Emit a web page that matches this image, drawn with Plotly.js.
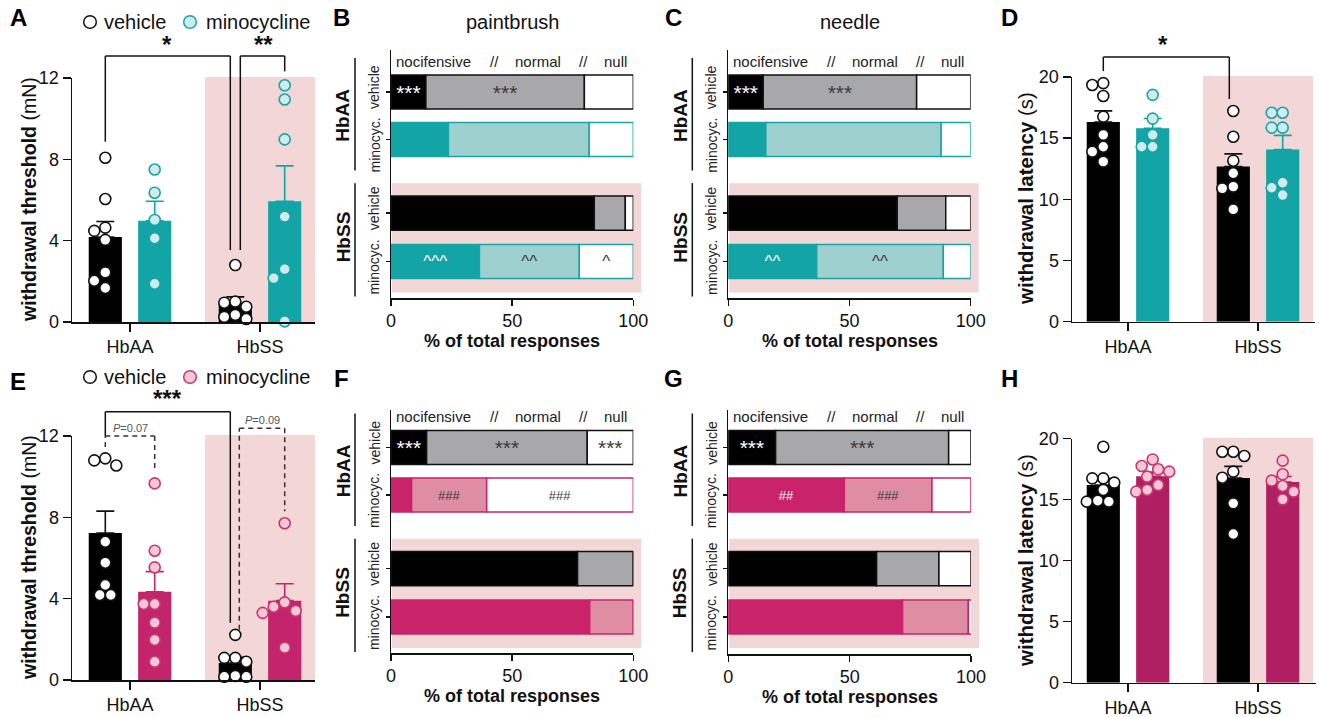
<!DOCTYPE html>
<html><head><meta charset="utf-8">
<script src="https://cdn.plot.ly/plotly-3.0.1.min.js"></script>
<style>html,body{margin:0;padding:0;background:#fff}#chart{width:1319px;height:717px}</style>
</head><body><div id="chart"></div>
<script>
// ================= DATA =================
const groups = ['HbAA', 'HbSS'];

// Panel A – withdrawal threshold (mN), teal minocycline cohort
const A_vehicle_HbAA = [8.08, 6.05, 4.64, 4.48, 4.04, 2.44, 2.03, 1.67];
const A_vehicle_HbSS = [2.8, 1.0, 0.95, 0.75, 0.35, 0.25, 0.15];
const A_minocycline_HbAA = [7.5, 6.36, 5.02, 4.12, 1.88];
const A_minocycline_HbSS = [11.64, 10.94, 8.98, 5.18, 2.6, 2.16, 0.03];

// Panel D – withdrawal latency (s), teal cohort
const D_vehicle_HbAA = [19.5, 19.35, 18.45, 16.76, 15.27, 14.3, 13.9, 13.08];
const D_vehicle_HbSS = [17.22, 15.12, 13.16, 12.13, 11.04, 10.9, 9.18];
const D_minocycline_HbAA = [18.54, 16.6, 15.27, 14.3, 14.3];
const D_minocycline_HbSS = [17.08, 17.08, 15.86, 15.86, 11.36, 10.95, 10.35];

// Panel E – withdrawal threshold (mN), magenta cohort
const E_vehicle_HbAA = [10.9, 10.8, 10.55, 6.8, 5.77, 4.67, 4.18, 4.18];
const E_vehicle_HbSS = [2.22, 1.09, 1.09, 0.9, 0.2, 0.16, 0.16];
const E_minocycline_HbAA = [9.67, 6.36, 5.54, 3.74, 3.74, 2.82, 1.97, 0.9];
const E_minocycline_HbSS = [7.71, 3.82, 3.6, 3.4, 3.3, 1.59];

// Panel H – withdrawal latency (s), magenta cohort
const H_vehicle_HbAA = [19.34, 16.75, 16.75, 16.4, 15.8, 14.92, 14.84, 14.84];
const H_vehicle_HbSS = [18.93, 18.93, 18.58, 17.3, 16.8, 14.7, 12.19];
const H_minocycline_HbAA = [18.3, 17.76, 17.49, 17.3, 16.89, 16.2, 15.8, 15.66];
const H_minocycline_HbSS = [18.2, 17.08, 16.56, 16.12, 15.66, 15.03];

// Stacked response panels (% of total responses); rows: HbAA vehicle, HbAA minocyc., HbSS vehicle, HbSS minocyc.
const rowGroups = ['HbAA', 'HbAA', 'HbSS', 'HbSS'];
const rowTreatments = ['vehicle', 'minocyc.', 'vehicle', 'minocyc.'];
const responseTypes = ['nocifensive', 'normal', 'null'];

const B_nocifensive = [14.4, 23.7, 83.9, 36.5];
const B_normal      = [65.4, 58.1, 12.8, 41.2];
const B_null        = [20.2, 18.2, 3.3, 22.3];
const B_sig_nocifensive = ['***', '', '', '^^^'];
const B_sig_normal      = ['***', '', '', '^^'];
const B_sig_null        = ['***', '', '', '^'];

const C_nocifensive = [14.4, 15.5, 69.7, 36.5];
const C_normal      = [63.3, 72.3, 20.0, 52.2];
const C_null        = [22.3, 12.2, 10.3, 11.3];
const C_sig_nocifensive = ['***', '', '', '^^'];
const C_sig_normal      = ['***', '', '', '^^'];
const C_sig_null        = ['', '', '', ''];

const F_nocifensive = [14.7, 8.5, 77.0, 82.0];
const F_normal      = [66.3, 31.0, 23.0, 18.0];
const F_null        = [19.0, 60.5, 0, 0];
const F_sig_nocifensive = ['***', '', '', ''];
const F_sig_normal      = ['***', '###', '', ''];
const F_sig_null        = ['***', '###', '', ''];

const G_nocifensive = [19.5, 47.8, 61.1, 71.8];
const G_normal      = [71.3, 36.1, 25.7, 27.1];
const G_null        = [9.2, 16.1, 13.2, 2.5];
const G_sig_nocifensive = ['***', '##', '', ''];
const G_sig_normal      = ['***', '###', '', ''];
const G_sig_null        = ['', '', '', ''];

// ================= STYLE / LAYOUT HELPERS =================
const W = 1319, H = 717;
const FONT = 'Arial, "Liberation Sans", sans-serif';
const INK = '#111';
const PINK_BG = '#f3d6d6';
const TEAL = {bar: '#13a5a6', fill: '#cfeced', line: '#1aa4a6', normal: '#9fd0d0'};
const MAG_E = {bar: '#c4246b', fill: '#f5c6d6', line: '#c5376f'};
const MAG_H = {bar: '#b11f63', fill: '#f5c6d6', line: '#c5376f'};
const MAG_S = {bar: '#c9236a', normal: '#de8da2', line: '#c9236a'};
const VEH = {bar: '#000000', fill: '#ffffff', line: '#111111', normal: '#a8a8ab'};

const xp = p => p / W, yp = p => 1 - p / H;
const layout = {
  width: W, height: H, margin: {l: 0, r: 0, t: 0, b: 0},
  paper_bgcolor: '#ffffff', plot_bgcolor: 'rgba(0,0,0,0)',
  showlegend: false, barmode: 'overlay', hovermode: false,
  font: {family: FONT, color: INK, size: 18},
  shapes: [], annotations: []
};
const traces = [];

function ann(text, x, y, opts = {}) {
  const font = Object.assign({family: FONT, size: 18, color: INK}, opts.font || {});
  const o = Object.assign({text, x: xp(x), y: yp(y), xref: 'paper', yref: 'paper', showarrow: false,
    xanchor: 'center', yanchor: 'middle'}, opts);
  o.font = font;
  layout.annotations.push(o);
}
function seg(x0, y0, x1, y1, opts = {}) {
  layout.shapes.push({type: 'line', xref: 'paper', yref: 'paper', x0: xp(x0), y0: yp(y0), x1: xp(x1), y1: yp(y1),
    line: Object.assign({color: INK, width: 1.5}, opts)});
}
function rect(x0, y0, x1, y1, color) {
  layout.shapes.push({type: 'rect', xref: 'paper', yref: 'paper', x0: xp(x0), x1: xp(x1), y0: yp(y1), y1: yp(y0),
    fillcolor: color, line: {width: 0}, layer: 'below'});
}
function circ(cx, cy, r, fill, lineColor) {
  layout.shapes.push({type: 'circle', xref: 'paper', yref: 'paper', x0: xp(cx - r), x1: xp(cx + r), y0: yp(cy + r), y1: yp(cy - r),
    fillcolor: fill, line: {color: lineColor, width: 1.5}});
}
const mean = a => a.reduce((s, v) => s + v, 0) / a.length;
const sem = a => { const m = mean(a); return Math.sqrt(a.reduce((s, v) => s + (v - m) ** 2, 0) / (a.length - 1) / a.length); };

// beeswarm offsets (px) so markers do not overlap
function swarm(vals, pxPerUnit, d) {
  const order = vals.map((v, i) => i).sort((a, b) => vals[b] - vals[a]);
  const placed = [], out = new Array(vals.length).fill(0);
  for (const i of order) {
    const y = vals[i] * pxPerUnit;
    for (let k = 0; k < 60; k++) {
      const step = Math.ceil(k / 2) * d / 2 * (k % 2 ? -1 : 1);
      if (placed.every(p => Math.hypot(p.x - step, p.y - y) >= d)) { out[i] = step; placed.push({x: step, y}); break; }
    }
  }
  return out;
}

const OFF = 0.19, BW = 0.255, XS = 130, DOT = 11;
function axisBase() {
  return {showline: true, linecolor: INK, linewidth: 1.5, ticks: 'outside', tickcolor: INK, tickwidth: 1.5,
    showgrid: false, zeroline: false, fixedrange: true, tickfont: {family: FONT, size: 18, color: INK}};
}

function barPanel(n, g, yr, dtick, veh, mino, th) {
  const id = n === 1 ? '' : String(n);
  const ys = (g.y1 - g.y0) / (yr[1] - yr[0]);
  const X = v => g.g0 + v * XS, Y = v => g.y1 - (v - yr[0]) * ys;
  layout['xaxis' + id] = Object.assign(axisBase(), {domain: [xp(g.x0), xp(g.x1)],
    range: [(g.x0 - g.g0) / XS, (g.x1 - g.g0) / XS], anchor: 'y' + id,
    tickmode: 'array', tickvals: [0, 1], ticktext: groups, ticklen: 8});
  layout['yaxis' + id] = Object.assign(axisBase(), {domain: [yp(g.y1), yp(g.y0)], range: yr, anchor: 'x' + id,
    tick0: 0, dtick: dtick, ticklen: 8});
  rect(X(1) - 55, Y(yr[1]) - 1, X(1) + 55, Y(yr[0]), PINK_BG);
  const sets = [[veh, -OFF, VEH, VEH.line], [mino, OFF, th, th.bar]];
  sets.forEach(([data, off, col, ecol]) => {
    traces.push({type: 'bar', xaxis: 'x' + id, yaxis: 'y' + id,
      x: groups.map((_, i) => i + off), y: data.map(mean), width: BW,
      marker: {color: col.bar, line: {width: 0}},
      error_y: {type: 'data', symmetric: false, array: data.map(sem), arrayminus: data.map(() => 0),
        color: ecol, thickness: 1.6, width: 9}, hoverinfo: 'skip'});
  });
  sets.forEach(([data, off, col]) => {
    data.forEach((vals, i) => {
      const sw = swarm(vals, ys, DOT);
      traces.push({type: 'scatter', mode: 'markers', xaxis: 'x' + id, yaxis: 'y' + id, cliponaxis: false,
        x: vals.map((v, j) => i + off + sw[j] / XS), y: vals,
        marker: {size: DOT, color: col.fill, line: {color: col.line, width: 1.6}}, hoverinfo: 'skip'});
    });
  });
  return {X, Y};
}

const ROWPOS = [0, 1, 2.55, 3.57], RPX = 47.5, BH = 0.716;
const sigSize = t => t.includes('*') ? 21 : (t.includes('^') ? 17 : 13);
function stackPanel(n, s, noci, normal, nul, sigs, th) {
  const id = String(n);
  layout['xaxis' + id] = Object.assign(axisBase(), {domain: [xp(s.x0), xp(s.x1)], range: [0, 100], anchor: 'y' + id,
    tickmode: 'array', tickvals: [0, 50, 100], ticklen: 6});
  layout['yaxis' + id] = Object.assign(axisBase(), {domain: [yp(s.bottom), yp(s.top)],
    range: [(s.bottom - s.t0) / RPX, (s.top - s.t0) / RPX], anchor: 'x' + id,
    tickmode: 'array', tickvals: ROWPOS, ticklen: 4, showticklabels: false});
  const rowPx = ROWPOS.map(r => s.t0 + r * RPX);
  const xpx = v => s.x0 + v / 100 * (s.x1 - s.x0);
  // pink HbSS background
  rect(xpx(0) + 1, rowPx[2] - 30, xpx(103.3), rowPx[3] + 31, PINK_BG);
  const rowCols = ROWPOS.map((_, r) => r % 2 === 0 ? VEH : th);
  const vals = [noci, normal, nul];
  let base = [0, 0, 0, 0];
  vals.forEach((v, k) => {
    const fill = rowCols.map(c => k === 0 ? c.bar : (k === 1 ? c.normal : '#ffffff'));
    traces.push({type: 'bar', orientation: 'h', xaxis: 'x' + id, yaxis: 'y' + id,
      y: ROWPOS, x: v, base: base.slice(), width: BH, cliponaxis: false,
      marker: {color: fill, line: {color: rowCols.map(c => c.line), width: 1.5}},
      text: sigs[k], textposition: 'inside', insidetextanchor: 'middle', constraintext: 'none', textangle: 0,
      textfont: {family: FONT, size: sigs[k].map(sigSize), color: k === 0 ? '#ffffff' : '#3a3a3a'}, hoverinfo: 'skip'});
    base = base.map((b, r) => b + v[r]);
  });
  // header
  const hy = s.t0 - 31;
  [['nocifensive', 42], ['//', 103], ['normal', 147], ['//', 192], ['null', 224]].forEach(([t, dx]) =>
    ann(t, s.x0 + dx, hy, {font: {size: 15, color: '#222'}}));
  // row labels
  rowTreatments.forEach((t, r) => ann(t, s.x0 - 17, rowPx[r] + (r % 2 === 0 ? -5 : 6), {textangle: -90, font: {size: 14, color: '#222'}}));
  // group labels and bars
  [[0, 1, -34, 31], [2, 3, -30, 35]].forEach(([a, b, up, dn]) => {
    ann('<b>' + rowGroups[a] + '</b>', s.x0 - 48, (rowPx[a] + rowPx[b]) / 2, {textangle: -90, font: {size: 19}});
    seg(s.x0 - 36, rowPx[a] + up, s.x0 - 36, rowPx[b] + dn);
  });
  ann('<b>% of total responses</b>', (s.x0 + s.x1) / 2, s.bottom + 43, {font: {size: 18}});
}

// ================= PANELS =================
const A = barPanel(1, {x0: 72, x1: 315, y0: 78, y1: 322, g0: 130}, [0, 12], 4,
  [A_vehicle_HbAA, A_vehicle_HbSS], [A_minocycline_HbAA, A_minocycline_HbSS], TEAL);
const D = barPanel(4, {x0: 1072, x1: 1315, y0: 77, y1: 321.7, g0: 1128}, [0, 20], 5,
  [D_vehicle_HbAA, D_vehicle_HbSS], [D_minocycline_HbAA, D_minocycline_HbSS], TEAL);
const E = barPanel(5, {x0: 72, x1: 315, y0: 436, y1: 680, g0: 130}, [0, 12], 4,
  [E_vehicle_HbAA, E_vehicle_HbSS], [E_minocycline_HbAA, E_minocycline_HbSS], MAG_E);
const Hh = barPanel(8, {x0: 1072, x1: 1316, y0: 438.7, y1: 682.7, g0: 1128}, [0, 20], 5,
  [H_vehicle_HbAA, H_vehicle_HbSS], [H_minocycline_HbAA, H_minocycline_HbSS], MAG_H);

stackPanel(2, {x0: 391, x1: 633.3, t0: 92, top: 50, bottom: 298}, B_nocifensive, B_normal, B_null,
  [B_sig_nocifensive, B_sig_normal, B_sig_null], TEAL);
stackPanel(3, {x0: 728.3, x1: 970.7, t0: 92, top: 50, bottom: 298}, C_nocifensive, C_normal, C_null,
  [C_sig_nocifensive, C_sig_normal, C_sig_null], TEAL);
stackPanel(6, {x0: 391, x1: 633.3, t0: 447.5, top: 410, bottom: 653}, F_nocifensive, F_normal, F_null,
  [F_sig_nocifensive, F_sig_normal, F_sig_null], MAG_S);
stackPanel(7, {x0: 728.3, x1: 971, t0: 447.5, top: 410, bottom: 654}, G_nocifensive, G_normal, G_null,
  [G_sig_nocifensive, G_sig_normal, G_sig_null], MAG_S);

// axis titles of bar panels
const yt = (t, u, x, y, size) => ann('<b>' + t + '</b> ' + u, x, y, {textangle: -90, font: {size}});
yt('withdrawal threshold', '(mN)', 29, 200, 19.5);
yt('withdrawal threshold', '(mN)', 29, 558, 19.5);
yt('withdrawal latency', '(s)', 1025, 199, 20.5);
yt('withdrawal latency', '(s)', 1025, 561, 20.5);

// panel letters & titles
[['A', 18, 18], ['B', 341, 18], ['C', 673, 18], ['D', 1009, 18], ['E', 18, 382], ['F', 341, 378], ['G', 673, 378], ['H', 1009, 378]]
  .forEach(([t, x, y]) => ann('<b>' + t + '</b>', x, y, {font: {size: 24, color: '#000'}}));
ann('paintbrush', 512, 22, {font: {size: 20}});
ann('needle', 850, 22, {font: {size: 20}});

// legends
function legend(y, th) {
  circ(90, y, 6.3, '#ffffff', INK);
  ann('vehicle', 102, y, {xanchor: 'left', font: {size: 20}});
  circ(190, y, 6.3, th.fill, th.line);
  ann('minocycline', 204, y, {xanchor: 'left', font: {size: 20}});
}
legend(22, TEAL);
legend(377, MAG_E);

// significance brackets
const mx = a => Math.max(...a);
const star = (t, x, y) => ann('<b>' + t + '</b>', x, y, {font: {size: 24}});
{ // A
  const top = 56, xL = A.X(-OFF), xR1 = A.X(1 - OFF) - 5, xR2 = A.X(1 - OFF) + 5, xM = A.X(1 + OFF);
  seg(xL, A.Y(mx(A_vehicle_HbAA)) - 16, xL, top); seg(xL, top, xR1, top); seg(xR1, top, xR1, A.Y(mx(A_vehicle_HbSS)) - 15);
  seg(xR2, A.Y(mx(A_vehicle_HbSS)) - 15, xR2, top); seg(xR2, top, xM, top); seg(xM, top, xM, A.Y(mx(A_minocycline_HbSS)) - 14);
  star('*', 167, 44); star('**', 263, 44);
}
{ // D
  const top = 57, xL = D.X(-OFF), xR = D.X(1 - OFF) - 4;
  seg(xL, D.Y(mx(D_vehicle_HbAA)) - 12, xL, top); seg(xL, top, xR, top); seg(xR, top, xR, D.Y(mx(D_vehicle_HbSS)) - 12);
  star('*', 1163, 44);
}
{ // E
  const top = 411.7, dashY = 436, xL = E.X(-OFF), xR = E.X(1 - OFF) - 5;
  seg(xL, dashY, xL, top); seg(xL, top, xR, top); seg(xR, top, xR, E.Y(mx(E_vehicle_HbSS)) - 12);
  star('***', 167, 398);
  const dash = {dash: '5px,4px', color: '#333', width: 1.5};
  const xM1 = E.X(OFF);
  seg(xL, dashY + 11, xL, dashY, dash); seg(xL, dashY, xM1, dashY, dash); seg(xM1, dashY, xM1, E.Y(mx(E_minocycline_HbAA)) - 12, dash);
  ann('<i>P</i>=0.07', E.X(0), 428, {font: {size: 11, color: '#555'}});
  const d2 = 428.3, xS = E.X(1 - OFF) + 4, xM2 = E.X(1 + OFF);
  seg(xS, E.Y(mx(E_vehicle_HbSS)) - 5, xS, d2, dash); seg(xS, d2, xM2, d2, dash); seg(xM2, d2, xM2, E.Y(mx(E_minocycline_HbSS)) - 12, dash);
  ann('<i>P</i>=0.09', E.X(1) + 2, 420, {font: {size: 11, color: '#555'}});
}

Plotly.newPlot('chart', traces, layout, {staticPlot: true, displayModeBar: false});
</script>
</body></html>
